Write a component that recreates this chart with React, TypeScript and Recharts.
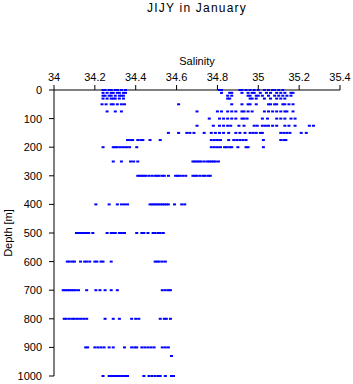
import React from "react";
import { ScatterChart, Scatter, XAxis, YAxis, Label } from "recharts";

const salinityTicks = [34, 34.2, 34.4, 34.6, 34.8, 35, 35.2, 35.4];
const depthTicks = [0, 100, 200, 300, 400, 500, 600, 700, 800, 900, 1000];

const sal0 = [34.24, 34.25, 34.27, 34.28, 34.3, 34.31, 34.33, 34.35, 34.81, 34.82, 34.91, 34.92, 34.94, 34.96, 34.98, 35.0, 35.03, 35.05, 35.07, 35.08, 35.1, 35.12];
const sal10 = [34.24, 34.26, 34.28, 34.29, 34.31, 34.32, 34.34, 34.35, 34.82, 34.86, 34.87, 34.92, 34.95, 34.97, 34.98, 35.01, 35.04, 35.06, 35.09, 35.11, 35.13, 35.16, 35.17];
const sal20 = [34.24, 34.25, 34.27, 34.28, 34.3, 34.32, 34.33, 34.34, 34.85, 34.87, 34.95, 34.96, 34.99, 35.0, 35.02, 35.05, 35.08, 35.1, 35.12, 35.14, 35.16];
const sal30 = [34.24, 34.26, 34.28, 34.29, 34.3, 34.32, 34.34, 34.85, 34.86, 34.96, 34.97, 34.99, 35.03, 35.06, 35.09, 35.11, 35.13];
const sal50 = [34.235, 34.255, 34.28, 34.29, 34.31, 34.33, 34.345, 34.61, 34.87, 34.92, 34.95, 34.96, 34.99, 35.05, 35.06, 35.08, 35.09, 35.12, 35.13, 35.15, 35.17];
const sal75 = [34.26, 34.3, 34.33, 34.7, 34.8, 34.82, 34.85, 34.87, 34.89, 34.92, 34.93, 34.95, 34.97, 35.03, 35.05, 35.07, 35.09, 35.11, 35.13, 35.14, 35.17];
const sal100 = [34.76, 34.81, 34.83, 34.85, 34.87, 34.89, 34.92, 34.93, 34.945, 35.02, 35.045, 35.09, 35.11, 35.13, 35.16, 35.18];
const sal125 = [34.7, 34.78, 34.81, 34.83, 34.85, 34.865, 34.905, 34.93, 34.98, 34.995, 35.02, 35.035, 35.05, 35.07, 35.09, 35.13, 35.15, 35.18, 35.25, 35.27];
const sal150 = [34.56, 34.61, 34.65, 34.665, 34.685, 34.735, 34.77, 34.79, 34.81, 34.83, 34.855, 34.89, 34.91, 34.935, 34.96, 34.975, 34.99, 35.01, 35.02, 35.11, 35.125, 35.14, 35.155, 35.21, 35.235];
const sal175 = [34.36, 34.375, 34.385, 34.41, 34.425, 34.435, 34.47, 34.52, 34.77, 34.785, 34.8, 34.815, 34.855, 34.88, 34.895, 34.91, 34.925, 34.94, 35.025, 35.11, 35.125, 35.135];
const sal200 = [34.24, 34.29, 34.3, 34.31, 34.325, 34.34, 34.355, 34.37, 34.405, 34.77, 34.785, 34.8, 34.815, 34.835, 34.845, 34.86, 34.87, 34.9, 34.94, 34.95, 35.025];
const sal250 = [34.29, 34.33, 34.375, 34.39, 34.41, 34.68, 34.69, 34.7, 34.71, 34.72, 34.735, 34.75, 34.76, 34.77, 34.78, 34.79, 34.805];
const sal300 = [34.41, 34.42, 34.43, 34.44, 34.45, 34.465, 34.48, 34.495, 34.505, 34.515, 34.53, 34.54, 34.56, 34.595, 34.605, 34.615, 34.63, 34.645, 34.68, 34.69, 34.7, 34.715, 34.73, 34.74, 34.755, 34.765];
const sal400 = [34.205, 34.27, 34.31, 34.33, 34.345, 34.36, 34.47, 34.48, 34.49, 34.5, 34.51, 34.52, 34.53, 34.54, 34.55, 34.56, 34.59, 34.625, 34.64];
const sal500 = [34.11, 34.12, 34.13, 34.14, 34.15, 34.16, 34.17, 34.19, 34.26, 34.28, 34.29, 34.3, 34.32, 34.33, 34.345, 34.405, 34.43, 34.44, 34.46, 34.485, 34.495, 34.51, 34.52, 34.535];
const sal600 = [34.065, 34.075, 34.09, 34.1, 34.13, 34.15, 34.16, 34.175, 34.2, 34.21, 34.23, 34.24, 34.28, 34.495, 34.505, 34.515, 34.53, 34.545];
const sal700 = [34.045, 34.055, 34.065, 34.075, 34.085, 34.095, 34.105, 34.12, 34.16, 34.205, 34.225, 34.25, 34.28, 34.31, 34.53, 34.545, 34.56, 34.57];
const sal800 = [34.05, 34.06, 34.075, 34.09, 34.1, 34.115, 34.13, 34.145, 34.16, 34.25, 34.29, 34.32, 34.38, 34.4, 34.415, 34.52, 34.54, 34.55, 34.57];
const sal900 = [34.155, 34.165, 34.2, 34.215, 34.23, 34.245, 34.27, 34.29, 34.345, 34.38, 34.395, 34.405, 34.43, 34.445, 34.46, 34.475, 34.49, 34.53, 34.545, 34.56];
const sal930 = [34.575];
const sal1000 = [34.24, 34.27, 34.28, 34.29, 34.3, 34.31, 34.32, 34.335, 34.35, 34.36, 34.44, 34.465, 34.48, 34.495, 34.51, 34.52, 34.545, 34.575, 34.585];

const levels: [number, number[]][] = [
  [0, sal0], [10, sal10], [20, sal20], [30, sal30], [50, sal50], [75, sal75],
  [100, sal100], [125, sal125], [150, sal150], [175, sal175], [200, sal200],
  [250, sal250], [300, sal300], [400, sal400], [500, sal500], [600, sal600],
  [700, sal700], [800, sal800], [900, sal900], [930, sal930], [1000, sal1000],
];

const data = levels.flatMap(([depth, sals]) => sals.map((s) => ({ salinity: s, depth })));

const FONT = "'Liberation Sans', Arial, sans-serif";

const Marker = (props: any) => {
  const { cx, cy } = props;
  if (cx == null || cy == null) return null;
  return <rect x={cx - 1.5} y={cy - 1} width={3} height={2} fill="#0000ff" />;
};

export default function App() {
  return (
    <div style={{ position: "absolute", left: 0, top: 0, width: 353, height: 384, background: "#fff" }}>
      <svg style={{ position: "absolute", left: 0, top: 0 }} width={353} height={30}>
        <text x={197} y={12} textAnchor="middle" fontSize={12} fontFamily={FONT} letterSpacing={1.2} fill="#000">
          JIJY in January
        </text>
      </svg>
      <ScatterChart width={353} height={384} margin={{ top: 30, right: 13, bottom: 8, left: 0 }}>
        <XAxis
          xAxisId="x"
          dataKey="salinity"
          type="number"
          orientation="top"
          domain={[34, 35.4]}
          ticks={salinityTicks}
          height={60}
          stroke="#000"
          tickSize={5}
          tickMargin={4}
          tick={{ fill: "#000", fontSize: 11, fontFamily: FONT }}
          tickFormatter={(v: number) => String(Math.round(v * 10) / 10)}
        >
          <Label value="Salinity" position="insideTop" offset={27} style={{ fill: "#000", fontSize: 11, fontFamily: FONT }} />
        </XAxis>
        <YAxis
          yAxisId="y"
          dataKey="depth"
          type="number"
          reversed
          domain={[0, 1000]}
          ticks={depthTicks}
          width={54}
          stroke="#000"
          tickSize={5}
          tickMargin={7}
          tick={{ fill: "#000", fontSize: 11, fontFamily: FONT }}
        >
          <Label
            value="Depth [m]"
            angle={-90}
            position="insideLeft"
            offset={8}
            style={{ fill: "#000", fontSize: 11, fontFamily: FONT, textAnchor: "middle" }}
          />
        </YAxis>
        <Scatter xAxisId="x" yAxisId="y" data={data} shape={Marker} isAnimationActive={false} />
      </ScatterChart>
    </div>
  );
}
